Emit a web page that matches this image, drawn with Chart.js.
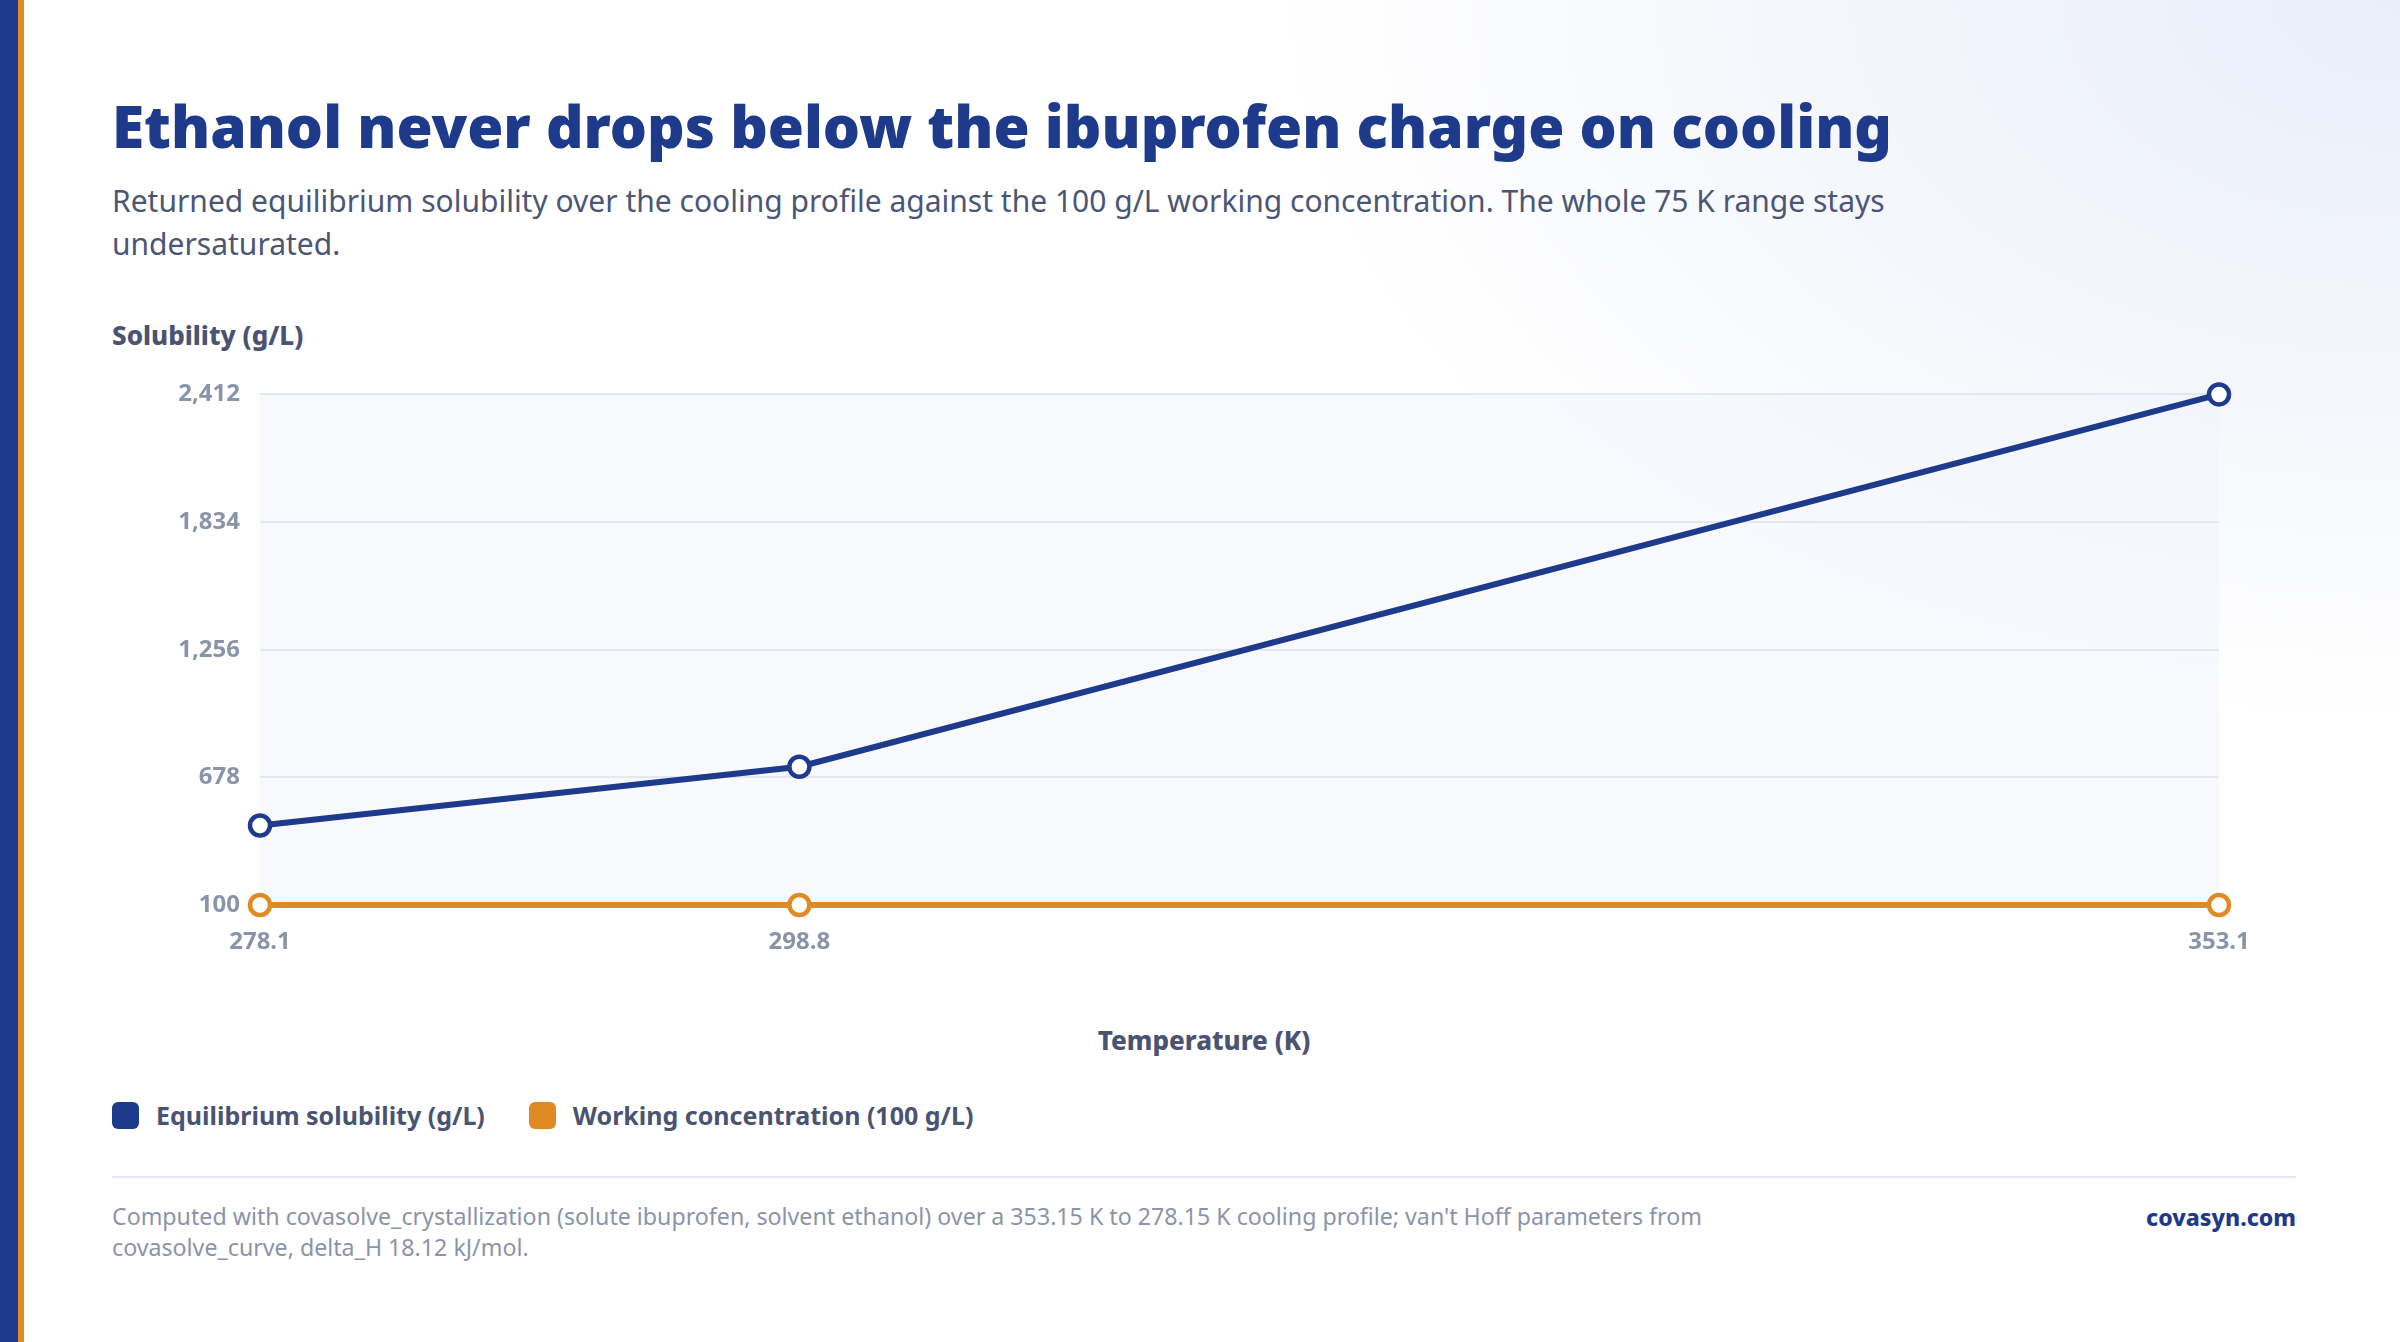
<!DOCTYPE html>
<html>
<head>
<meta charset="utf-8">
<script src="https://cdn.jsdelivr.net/npm/chart.js@4.4.1/dist/chart.umd.min.js"></script>
<style>
  html, body { margin: 0; padding: 0; }
  body {
    width: 2400px; height: 1342px; position: relative; overflow: hidden;
    font-family: "Noto Sans", sans-serif;
    background: radial-gradient(ellipse 1400px 900px at 100% 0%, #e9eefa 0%, #f5f7fc 45%, #ffffff 80%);
  }
  .stripe-blue { position: absolute; left: 0; top: 0; width: 18px; height: 100%; background: #1e3a8a; }
  .stripe-orange { position: absolute; left: 18px; top: 0; width: 6px; height: 100%; background: #df8a22; }
  h1 {
    position: absolute; left: 112px; top: 93px; margin: 0;
    font-size: 58.5px; font-weight: 900; color: #1e3a8a; white-space: nowrap; line-height: 1.1;
  }
  .sub {
    position: absolute; left: 112px; top: 179px; margin: 0;
    font-size: 30px; line-height: 43px; color: #4b5674; white-space: nowrap;
  }
  .ytitle {
    position: absolute; left: 112px; top: 317px;
    font-weight: 800; font-size: 26px; color: #4a5472;
  }
  .xtitle {
    position: absolute; left: 112px; width: 2184px; top: 1022px; text-align: center;
    font-weight: 800; font-size: 26px; color: #4a5472;
  }
  #chartBox { position: absolute; left: 112px; top: 360px; width: 2184px; height: 620px; }
  .legend { position: absolute; left: 112px; top: 1098px; display: flex; align-items: center; }
  .legend .item { display: flex; align-items: center; margin-right: 44px; }
  .legend .sw { width: 27px; height: 27px; border-radius: 6px; margin-right: 17px; }
  .legend span { font-size: 25px; font-weight: 700; color: #4a5472; }
  .rule { position: absolute; left: 112px; width: 2184px; top: 1176px; height: 2px; background: #e3e8f1; }
  .foot {
    position: absolute; left: 112px; top: 1201px; font-size: 23.2px; line-height: 31px;
    color: #8a94a9; white-space: nowrap;
  }
  .brand {
    position: absolute; right: 104px; top: 1201px;
    font-weight: 800; font-size: 23px; color: #1e3a8a;
  }
</style>
</head>
<body>
<div class="stripe-blue"></div>
<div class="stripe-orange"></div>
<h1>Ethanol never drops below the ibuprofen charge on cooling</h1>
<p class="sub">Returned equilibrium solubility over the cooling profile against the 100 g/L working concentration. The whole 75 K range stays<br>undersaturated.</p>
<div class="ytitle">Solubility (g/L)</div>
<div id="chartBox"><canvas id="solChart" width="2184" height="620"></canvas></div>
<div class="xtitle">Temperature (K)</div>
<div class="legend" id="legend"></div>
<div class="rule"></div>
<div class="foot">Computed with covasolve_crystallization (solute ibuprofen, solvent ethanol) over a 353.15 K to 278.15 K cooling profile; van't Hoff parameters from<br>covasolve_curve, delta_H 18.12 kJ/mol.</div>
<div class="brand">covasyn.com</div>

<script>
// Data
const temperatures = [278.15, 298.8, 353.15];
const xTickLabels = ['278.1', '298.8', '353.1'];
const solubility = [460, 726, 2412];
const workingConc = [100, 100, 100];
const yTicks = [100, 678, 1256, 1834, 2412];

const seriesNames = ['Equilibrium solubility (g/L)', 'Working concentration (100 g/L)'];
const seriesColors = ['#1e3a8a', '#df8a22'];

// Legend (HTML)
const legendEl = document.getElementById('legend');
seriesNames.forEach((name, i) => {
  const item = document.createElement('div');
  item.className = 'item';
  item.innerHTML = `<div class="sw" style="background:${seriesColors[i]}"></div><span>${name}</span>`;
  legendEl.appendChild(item);
});

// Light fill behind the plot area
const plotBg = {
  id: 'plotBg',
  beforeDraw(chart) {
    const { ctx, chartArea: a } = chart;
    ctx.save();
    ctx.fillStyle = 'rgba(241, 244, 251, 0.55)';
    ctx.fillRect(a.left, a.top, a.right - a.left, a.bottom - a.top);
    ctx.restore();
  }
};

function makeDataset(values, idx) {
  return {
    label: seriesNames[idx],
    data: temperatures.map((t, i) => ({ x: t, y: values[i] })),
    borderColor: seriesColors[idx],
    backgroundColor: '#ffffff',
    borderWidth: 6,
    pointRadius: 10,
    pointBorderWidth: 4.5,
    pointBackgroundColor: '#ffffff',
    pointBorderColor: seriesColors[idx],
    tension: 0,
    clip: false
  };
}

const tickFont = { family: 'Noto Sans', weight: 'bold', size: 24 };

new Chart(document.getElementById('solChart'), {
  type: 'line',
  data: {
    datasets: [makeDataset(solubility, 0), makeDataset(workingConc, 1)]
  },
  options: {
    responsive: false,
    animation: false,
    events: [],
    layout: { padding: { top: 33, right: 77, left: 0, bottom: 0 } },
    plugins: {
      legend: { display: false },
      tooltip: { enabled: false }
    },
    scales: {
      x: {
        type: 'linear',
        min: temperatures[0],
        max: temperatures[temperatures.length - 1],
        afterBuildTicks: (scale) => { scale.ticks = temperatures.map(v => ({ value: v })); },
        afterFit: (scale) => { scale.height = 75; },
        grid: { display: false, drawTicks: false },
        border: { display: false },
        ticks: {
          padding: 23,
          color: '#8a94a9',
          font: tickFont,
          maxRotation: 0,
          autoSkip: false,
          callback: (v, i) => xTickLabels[i]
        }
      },
      y: {
        min: yTicks[0],
        max: yTicks[yTicks.length - 1],
        afterBuildTicks: (scale) => { scale.ticks = yTicks.map(v => ({ value: v })); },
        afterFit: (scale) => { scale.width = 148; },
        grid: { color: '#e3e8f1', lineWidth: 2, drawTicks: false },
        border: { display: false },
        ticks: {
          padding: 20,
          color: '#8a94a9',
          font: tickFont,
          callback: (v) => Number(v).toLocaleString('en-US')
        }
      }
    }
  },
  plugins: [plotBg]
});
</script>
</body>
</html>
